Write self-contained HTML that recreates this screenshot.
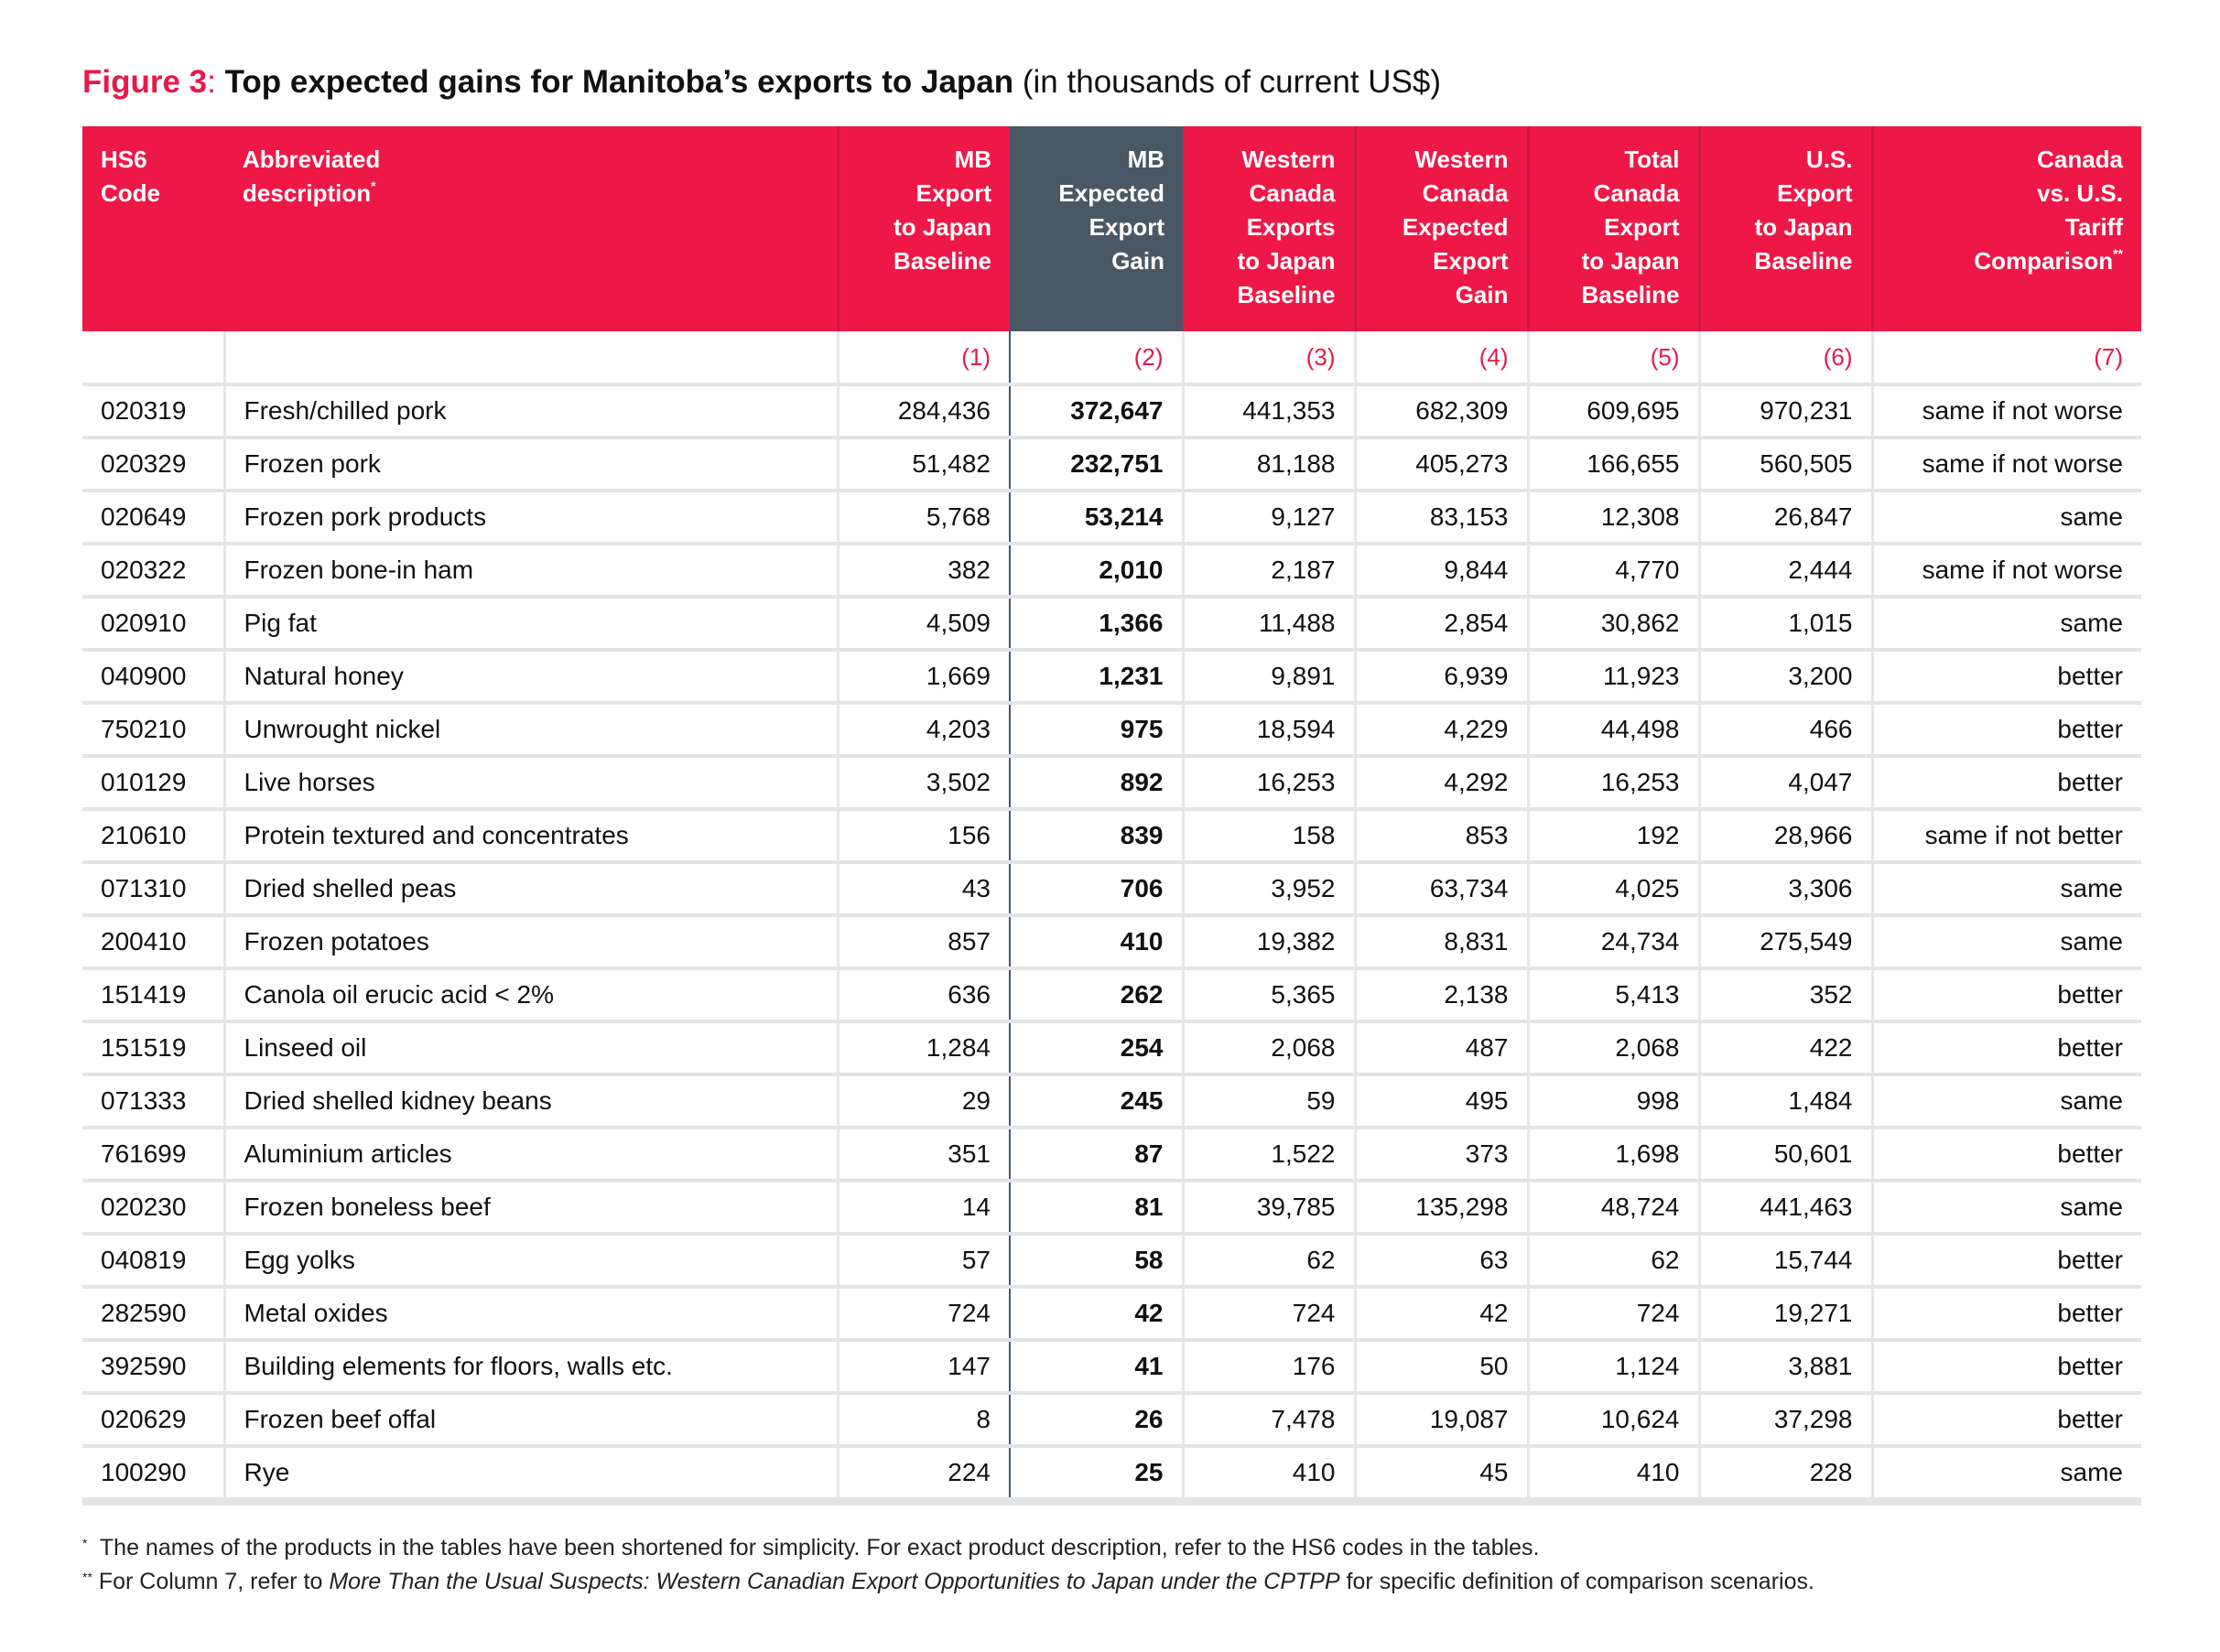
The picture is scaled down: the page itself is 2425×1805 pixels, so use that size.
<!DOCTYPE html>
<html><head><meta charset="utf-8"><style>
body{margin:0;width:2425px;height:1805px;background:#fff;font-family:"Liberation Sans",sans-serif;position:relative;overflow:hidden}
.title{position:absolute;left:90px;top:70px;font-size:35px;color:#111;white-space:nowrap}
.title .r{color:#e8184a;font-weight:bold}
table{position:absolute;left:90px;top:138px;width:2249px;border-collapse:collapse;table-layout:fixed}
th{background:#ee1847;color:#fff;font-size:26px;font-weight:bold;line-height:37px;text-align:right;vertical-align:top;padding:18px 20px 0 20px;height:206px;border-left:3px solid #d11640}
th.l{text-align:left;border-left:none}
th.d{background:#4a5866;border-left:none}
th.a{border-left:none}
td{font-size:28px;color:#111;text-align:right;padding:0 20px;height:54px;border-top:4px solid #e3e4e6;border-left:3px solid #e6e7e8;white-space:nowrap}
td.l{text-align:left}
td:first-child{border-left:none}
td.d{font-weight:bold;border-left:2px solid #4a5866;border-right:2px solid #4a5866}
tr.n td{color:#e8184a;font-size:26px;border-top:none;height:56px}
tr.last td{border-bottom:9px solid #e3e4e6}
sup{font-size:14px;line-height:0;vertical-align:0;position:relative;top:-12px}
.fn{position:absolute;left:90px;font-size:25px;color:#222;white-space:nowrap}
.fn sup{top:-8px}
</style></head><body>
<div class="title"><span class="r">Figure 3</span><span class="r" style="font-weight:normal">:</span> <b>Top expected gains for Manitoba’s exports to Japan</b> (in thousands of current US$)</div>
<table>
<colgroup><col style="width:155px"><col style="width:670px"><col style="width:188px"><col style="width:189px"><col style="width:188px"><col style="width:189px"><col style="width:187px"><col style="width:189px"><col style="width:294px"></colgroup>
<tr><th class="l">HS6<br>Code</th><th class="l">Abbreviated<br>description<sup>*</sup></th><th>MB<br>Export<br>to Japan<br>Baseline</th><th class="d">MB<br>Expected<br>Export<br>Gain</th><th class="a">Western<br>Canada<br>Exports<br>to Japan<br>Baseline</th><th>Western<br>Canada<br>Expected<br>Export<br>Gain</th><th>Total<br>Canada<br>Export<br>to Japan<br>Baseline</th><th>U.S.<br>Export<br>to Japan<br>Baseline</th><th>Canada<br>vs. U.S.<br>Tariff<br>Comparison<sup>**</sup></th></tr>
<tr class="n"><td></td><td></td><td>(1)</td><td class="d" style="font-weight:normal">(2)</td><td>(3)</td><td>(4)</td><td>(5)</td><td>(6)</td><td>(7)</td></tr>
<tr><td class="l">020319</td><td class="l">Fresh/chilled pork</td><td>284,436</td><td class="d">372,647</td><td>441,353</td><td>682,309</td><td>609,695</td><td>970,231</td><td>same if not worse</td></tr>
<tr><td class="l">020329</td><td class="l">Frozen pork</td><td>51,482</td><td class="d">232,751</td><td>81,188</td><td>405,273</td><td>166,655</td><td>560,505</td><td>same if not worse</td></tr>
<tr><td class="l">020649</td><td class="l">Frozen pork products</td><td>5,768</td><td class="d">53,214</td><td>9,127</td><td>83,153</td><td>12,308</td><td>26,847</td><td>same</td></tr>
<tr><td class="l">020322</td><td class="l">Frozen bone-in ham</td><td>382</td><td class="d">2,010</td><td>2,187</td><td>9,844</td><td>4,770</td><td>2,444</td><td>same if not worse</td></tr>
<tr><td class="l">020910</td><td class="l">Pig fat</td><td>4,509</td><td class="d">1,366</td><td>11,488</td><td>2,854</td><td>30,862</td><td>1,015</td><td>same</td></tr>
<tr><td class="l">040900</td><td class="l">Natural honey</td><td>1,669</td><td class="d">1,231</td><td>9,891</td><td>6,939</td><td>11,923</td><td>3,200</td><td>better</td></tr>
<tr><td class="l">750210</td><td class="l">Unwrought nickel</td><td>4,203</td><td class="d">975</td><td>18,594</td><td>4,229</td><td>44,498</td><td>466</td><td>better</td></tr>
<tr><td class="l">010129</td><td class="l">Live horses</td><td>3,502</td><td class="d">892</td><td>16,253</td><td>4,292</td><td>16,253</td><td>4,047</td><td>better</td></tr>
<tr><td class="l">210610</td><td class="l">Protein textured and concentrates</td><td>156</td><td class="d">839</td><td>158</td><td>853</td><td>192</td><td>28,966</td><td>same if not better</td></tr>
<tr><td class="l">071310</td><td class="l">Dried shelled peas</td><td>43</td><td class="d">706</td><td>3,952</td><td>63,734</td><td>4,025</td><td>3,306</td><td>same</td></tr>
<tr><td class="l">200410</td><td class="l">Frozen potatoes</td><td>857</td><td class="d">410</td><td>19,382</td><td>8,831</td><td>24,734</td><td>275,549</td><td>same</td></tr>
<tr><td class="l">151419</td><td class="l">Canola oil erucic acid &lt; 2%</td><td>636</td><td class="d">262</td><td>5,365</td><td>2,138</td><td>5,413</td><td>352</td><td>better</td></tr>
<tr><td class="l">151519</td><td class="l">Linseed oil</td><td>1,284</td><td class="d">254</td><td>2,068</td><td>487</td><td>2,068</td><td>422</td><td>better</td></tr>
<tr><td class="l">071333</td><td class="l">Dried shelled kidney beans</td><td>29</td><td class="d">245</td><td>59</td><td>495</td><td>998</td><td>1,484</td><td>same</td></tr>
<tr><td class="l">761699</td><td class="l">Aluminium articles</td><td>351</td><td class="d">87</td><td>1,522</td><td>373</td><td>1,698</td><td>50,601</td><td>better</td></tr>
<tr><td class="l">020230</td><td class="l">Frozen boneless beef</td><td>14</td><td class="d">81</td><td>39,785</td><td>135,298</td><td>48,724</td><td>441,463</td><td>same</td></tr>
<tr><td class="l">040819</td><td class="l">Egg yolks</td><td>57</td><td class="d">58</td><td>62</td><td>63</td><td>62</td><td>15,744</td><td>better</td></tr>
<tr><td class="l">282590</td><td class="l">Metal oxides</td><td>724</td><td class="d">42</td><td>724</td><td>42</td><td>724</td><td>19,271</td><td>better</td></tr>
<tr><td class="l">392590</td><td class="l">Building elements for floors, walls etc.</td><td>147</td><td class="d">41</td><td>176</td><td>50</td><td>1,124</td><td>3,881</td><td>better</td></tr>
<tr><td class="l">020629</td><td class="l">Frozen beef offal</td><td>8</td><td class="d">26</td><td>7,478</td><td>19,087</td><td>10,624</td><td>37,298</td><td>better</td></tr>
<tr class="last"><td class="l">100290</td><td class="l">Rye</td><td>224</td><td class="d">25</td><td>410</td><td>45</td><td>410</td><td>228</td><td>same</td></tr>
</table>
<div class="fn" style="top:1677px"><sup>*</sup>&nbsp; The names of the products in the tables have been shortened for simplicity. For exact product description, refer to the HS6 codes in the tables.</div>
<div class="fn" style="top:1714px"><sup>**</sup> For Column 7, refer to <i>More Than the Usual Suspects: Western Canadian Export Opportunities to Japan under the CPTPP</i> for specific definition of comparison scenarios.</div>
</body></html>
